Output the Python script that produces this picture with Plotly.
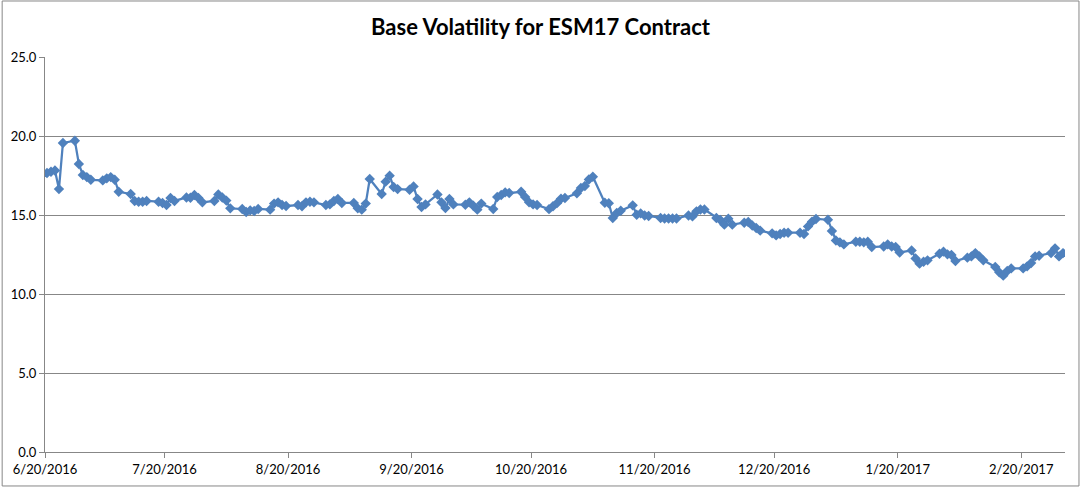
import pandas as pd
import plotly.graph_objects as go

# trading days shown on the chart (Mon-Fri, 6/20/2016 .. 3/2/2017)
trade_dates = pd.bdate_range("2016-06-20", "2017-03-02")

# base volatility, one row per week
base_vol = [
    17.66, 17.74, 17.82, 16.64, 19.56,
    19.70, 18.23, 17.53, 17.40, 17.23,
    17.19, 17.32, 17.40, 17.23, 16.47,
    16.33, 15.89, 15.84, 15.84, 15.89,
    15.84, 15.76, 15.63, 16.08, 15.89,
    16.11, 16.09, 16.27, 16.08, 15.80,
    15.89, 16.30, 16.11, 15.91, 15.42,
    15.38, 15.19, 15.29, 15.25, 15.38,
    15.34, 15.72, 15.80, 15.63, 15.57,
    15.63, 15.55, 15.80, 15.84, 15.80,
    15.63, 15.67, 15.89, 16.01, 15.76,
    15.76, 15.42, 15.34, 15.72, 17.28,
    16.33, 17.11, 17.49, 16.77, 16.64,
    16.60, 16.81, 16.01, 15.51, 15.67,
    16.30, 15.80, 15.44, 16.01, 15.67,
    15.65, 15.80, 15.59, 15.34, 15.72,
    15.38, 16.14, 16.27, 16.43, 16.39,
    16.47, 16.14, 15.80, 15.67, 15.63,
    15.37, 15.55, 15.75, 16.03, 16.08,
    16.37, 16.71, 16.84, 17.25, 17.42,
    15.78, 15.74, 14.81, 15.13, 15.27,
    15.61, 15.02, 15.10, 14.97, 14.94,
    14.81, 14.78, 14.78, 14.78, 14.78,
    14.97, 14.91, 15.23, 15.35, 15.35,
    14.81, 14.68, 14.39, 14.77, 14.39,
    14.51, 14.56, 14.34, 14.18, 14.01,
    13.84, 13.71, 13.80, 13.88, 13.88,
    13.88, 13.80, 14.28, 14.58, 14.75,
    14.70, 13.99, 13.39, 13.27, 13.14,
    13.31, 13.31, 13.27, 13.31, 12.97,
    13.01, 13.14, 13.01, 12.97, 12.63,
    12.76, 12.25, 11.92, 12.04, 12.13,
    12.55, 12.68, 12.51, 12.47, 12.09,
    12.30, 12.38, 12.59, 12.38, 12.13,
    11.71, 11.37, 11.16, 11.46, 11.62,
    11.62, 11.75, 11.96, 12.38, 12.42,
    12.59, 12.89, 12.38, 12.59,
]

# monthly tick marks on the date axis
tick_dates = ["2016-06-20", "2016-07-20", "2016-08-20", "2016-09-20", "2016-10-20",
              "2016-11-20", "2016-12-20", "2017-01-20", "2017-02-20"]
tick_labels = ["6/20/2016", "7/20/2016", "8/20/2016", "9/20/2016", "10/20/2016",
               "11/20/2016", "12/20/2016", "1/20/2017", "2/20/2017"]

title = "Base Volatility for ESM17 Contract"
blue = "#4F81BD"
grey = "#878787"

fig = go.Figure(go.Scatter(
    x=trade_dates, y=base_vol,
    mode="lines+markers",
    # Excel date axis puts each point in the middle of its day
    xperiod=86400000, xperiodalignment="middle",
    line={"color": blue, "width": 2.25},
    marker={"symbol": "diamond", "size": 8, "color": blue},
    showlegend=False,
))

fig.update_layout(
    width=1081, height=488,
    margin={"l": 45, "r": 16, "t": 57, "b": 36},
    paper_bgcolor="white", plot_bgcolor="white",
    font={"family": "Lato", "size": 13, "color": "#000000"},
    title={"text": "<b>" + title + "</b>", "x": 0.5, "xanchor": "center",
           "y": 0.945, "yanchor": "middle", "font": {"size": 22, "family": "Lato"}},
)

fig.update_xaxes(
    type="date", range=["2016-06-20", "2017-03-03"],
    tickvals=tick_dates, ticktext=tick_labels,
    ticks="outside", ticklen=5, tickcolor=grey,
    showline=True, linecolor=grey, linewidth=1,
    showgrid=False, zeroline=False,
)
fig.update_yaxes(
    range=[0, 25], dtick=5, tickformat=".1f",
    ticks="outside", ticklen=5, tickcolor=grey,
    showline=True, linecolor=grey, linewidth=1,
    showgrid=True, gridcolor=grey, gridwidth=1,
    zeroline=False,
)

# chart area border like the spreadsheet chart
fig.add_shape(type="rect", xref="paper", yref="paper",
              x0=-0.042, x1=1.0137, y0=-0.086, y1=1.1418,
              line={"color": grey, "width": 1}, layer="below")

# page margin off so the chart sits at the window corner, no toolbar
fig.write_html("out.html", config={"displayModeBar": False},
               post_script="document.body.style.margin='0';")
